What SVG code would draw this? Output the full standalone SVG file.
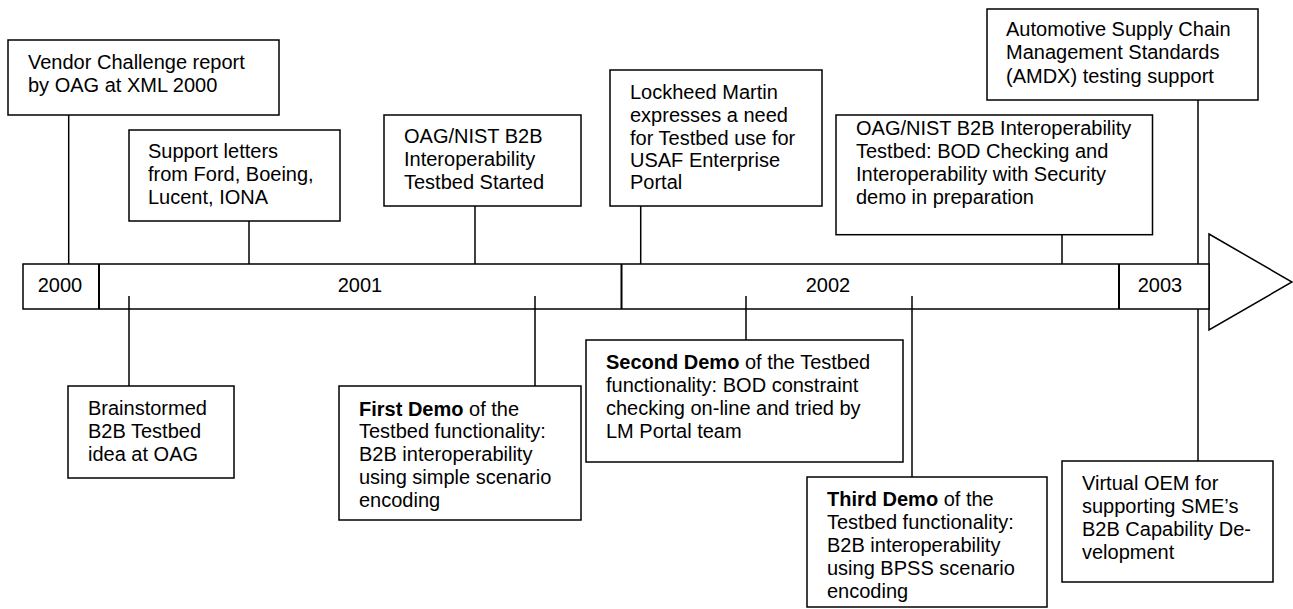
<svg xmlns="http://www.w3.org/2000/svg" width="1293" height="609" viewBox="0 0 1293 609">
<style>
.box{fill:#fff;stroke:#000;stroke-width:1.5}
.ln{stroke:#000;stroke-width:1.5;fill:none}
.dv{stroke:#000;stroke-width:2}
text{font-family:"Liberation Sans",Arial,sans-serif;font-size:20px;fill:#000}
.b{font-weight:bold}
.c{text-anchor:middle}
</style>
<rect width="1293" height="609" fill="#fff"/>
<g id="timeline">
<polygon class="box" points="1209,234 1292,282 1209,330"/>
<rect class="box" x="23" y="264" width="1186" height="45"/>
<line class="dv" x1="99" y1="264" x2="99" y2="309"/>
<line class="dv" x1="621.5" y1="264" x2="621.5" y2="309"/>
<line class="dv" x1="1119" y1="264" x2="1119" y2="309"/>
<text class="c" x="60" y="292">2000</text>
<text class="c" x="360" y="292">2001</text>
<text class="c" x="828" y="292">2002</text>
<text class="c" x="1160" y="292">2003</text>
</g>
<g id="connectors">
<line class="ln" x1="68.7" y1="115" x2="68.7" y2="264"/>
<line class="ln" x1="249" y1="221" x2="249" y2="264"/>
<line class="ln" x1="475" y1="206" x2="475" y2="264"/>
<line class="ln" x1="640.7" y1="206" x2="640.7" y2="264"/>
<line class="ln" x1="1062" y1="234.7" x2="1062" y2="264"/>
<line class="ln" x1="1198" y1="100" x2="1198" y2="264"/>
<line class="ln" x1="1198" y1="309" x2="1198" y2="461"/>
<line class="ln" x1="129" y1="296" x2="129" y2="386"/>
<line class="ln" x1="535" y1="296" x2="535" y2="386"/>
<line class="ln" x1="746" y1="296" x2="746" y2="340"/>
<line class="ln" x1="912" y1="296" x2="912" y2="477"/>
</g>
<g id="vendor">
<rect class="box" x="8" y="40" width="271" height="75"/>
<text x="28" y="69">Vendor Challenge report</text>
<text x="28" y="92">by OAG at XML 2000</text>
</g>
<g id="support">
<rect class="box" x="129" y="130" width="211" height="91"/>
<text x="148" y="158">Support letters</text>
<text x="148" y="181">from Ford, Boeing,</text>
<text x="148" y="204">Lucent, IONA</text>
</g>
<g id="oagstart">
<rect class="box" x="384" y="115" width="197" height="91"/>
<text x="404" y="143">OAG/NIST B2B</text>
<text x="404" y="166">Interoperability</text>
<text x="404" y="189">Testbed Started</text>
</g>
<g id="lockheed">
<rect class="box" x="610" y="70" width="212" height="136"/>
<text x="630" y="99">Lockheed Martin</text>
<text x="630" y="122">expresses a need</text>
<text x="630" y="145">for Testbed use for</text>
<text x="630" y="167">USAF Enterprise</text>
<text x="630" y="189">Portal</text>
</g>
<g id="oagbod">
<rect class="box" x="836" y="115" width="316.5" height="119.7"/>
<text x="856" y="135">OAG/NIST B2B Interoperability</text>
<text x="856" y="158">Testbed: BOD Checking and</text>
<text x="856" y="181">Interoperability with Security</text>
<text x="856" y="204">demo in preparation</text>
</g>
<g id="automotive">
<rect class="box" x="987" y="9" width="271" height="91"/>
<text x="1006" y="36">Automotive Supply Chain</text>
<text x="1006" y="59">Management Standards</text>
<text x="1006" y="83">(AMDX) testing support</text>
</g>
<g id="brainstormed">
<rect class="box" x="68" y="386" width="166" height="92"/>
<text x="88" y="415">Brainstormed</text>
<text x="88" y="438">B2B Testbed</text>
<text x="88" y="461">idea at OAG</text>
</g>
<g id="firstdemo">
<rect class="box" x="339" y="386" width="242" height="134"/>
<text x="359" y="416"><tspan class="b">First Demo</tspan> of the</text>
<text x="359" y="438">Testbed functionality:</text>
<text x="359" y="461">B2B interoperability</text>
<text x="359" y="484">using simple scenario</text>
<text x="359" y="507">encoding</text>
</g>
<g id="seconddemo">
<rect class="box" x="586" y="340" width="317" height="122"/>
<text x="606" y="369"><tspan class="b">Second Demo</tspan> of the Testbed</text>
<text x="606" y="392">functionality: BOD constraint</text>
<text x="606" y="415">checking on-line and tried by</text>
<text x="606" y="438">LM Portal team</text>
</g>
<g id="thirddemo">
<rect class="box" x="807" y="477" width="240" height="130"/>
<text x="827" y="506"><tspan class="b">Third Demo</tspan> of the</text>
<text x="827" y="529">Testbed functionality:</text>
<text x="827" y="552">B2B interoperability</text>
<text x="827" y="575">using BPSS scenario</text>
<text x="827" y="598">encoding</text>
</g>
<g id="virtualoem">
<rect class="box" x="1062" y="461" width="211" height="121"/>
<text x="1082" y="490">Virtual OEM for</text>
<text x="1082" y="513">supporting SME’s</text>
<text x="1082" y="536">B2B Capability De-</text>
<text x="1082" y="559">velopment</text>
</g>
</svg>
